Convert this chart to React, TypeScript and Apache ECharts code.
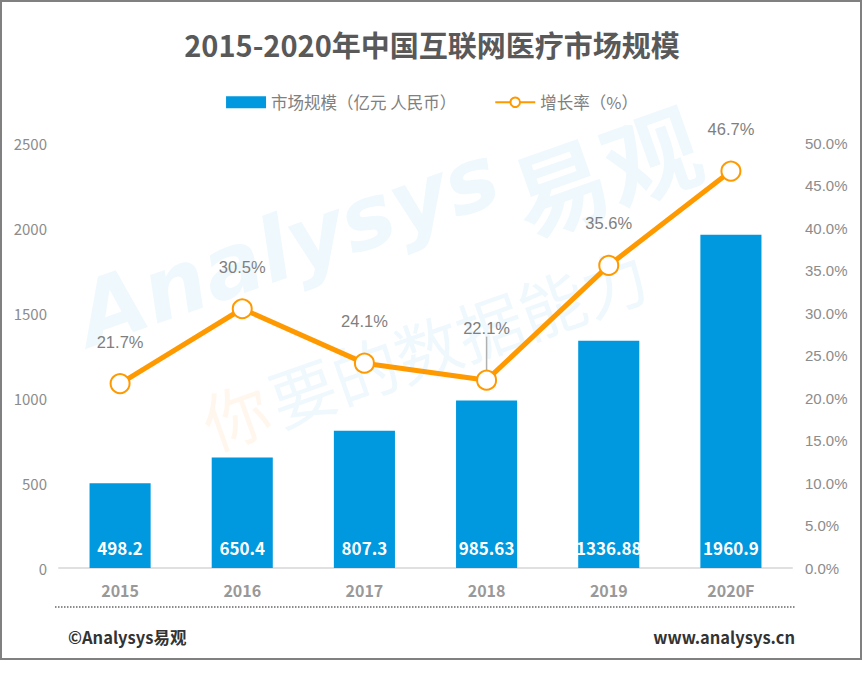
import React, { useEffect, useRef } from "react";
import * as echarts from "echarts";

const categories = ["2015", "2016", "2017", "2018", "2019", "2020F"];
const marketSize = [498.2, 650.4, 807.3, 985.63, 1336.88, 1960.9];
const growthRate = [21.7, 30.5, 24.1, 22.1, 35.6, 46.7];
const barName = "市场规模（亿元 人民币）";
const lineName = "增长率（%）";
const titleText = "2015-2020年中国互联网医疗市场规模";
const guidedLabelIndex = 3;

export default function App() {
  const ref = useRef<HTMLDivElement>(null);
  useEffect(() => {
    document.body.style.margin = "0";
    const chart = echarts.init(ref.current!, undefined, { renderer: "svg" });
    const font = "'Noto Sans CJK SC', 'Noto Sans', sans-serif";
    chart.setOption({
      animation: false,
      backgroundColor: "#ffffff",
      textStyle: { fontFamily: font },
      title: {
        text: titleText,
        left: "center",
        top: 24,
        textStyle: { fontSize: 29, fontWeight: "bold", color: "#595959", fontFamily: font },
      },
      legend: {
        top: 89,
        left: "center",
        itemGap: 38,
        itemWidth: 40,
        itemHeight: 12,
        textStyle: { fontSize: 16.5, color: "#808080", fontFamily: font },
        data: [
          { name: barName, icon: "rect" },
          { name: lineName },
        ],
      },
      grid: { left: 59, right: 72, top: 143, bottom: 106, containLabel: false },
      xAxis: {
        type: "category",
        data: categories,
        axisLine: { lineStyle: { color: "#e0e0e0", width: 2 } },
        axisTick: { show: false },
        axisLabel: { color: "#999999", fontSize: 16, fontWeight: "bold", margin: 14, fontFamily: font },
      },
      yAxis: [
        {
          type: "value",
          min: 0,
          max: 2500,
          interval: 500,
          splitLine: { show: false },
          axisLine: { show: false },
          axisTick: { show: false },
          axisLabel: {
            color: "#8c8c8c",
            fontSize: 15,
            margin: 12,
            fontFamily: font,
            formatter: (v: number) => String(v),
          },
        },
        {
          type: "value",
          min: 0,
          max: 50,
          interval: 5,
          splitLine: { show: false },
          axisLine: { show: false },
          axisTick: { show: false },
          axisLabel: {
            color: "#8c8c8c",
            fontSize: 15,
            margin: 13,
            fontFamily: "'Liberation Sans', Arial, sans-serif",
            formatter: (v: number) => v.toFixed(1) + "%",
          },
        },
      ],
      graphic: [
        {
          type: "text",
          x: 95,
          y: 360,
          rotation: 0.34,
          z: -10,
          silent: true,
          style: {
            text: "Analysys",
            fontSize: 88,
            fontStyle: "italic",
            fontWeight: "bold",
            fontFamily: "'DejaVu Sans', sans-serif",
            fill: "rgba(0,150,220,0.065)",
            textVerticalAlign: "bottom",
          },
        },
        {
          type: "text",
          x: 530,
          y: 245,
          rotation: 0.34,
          z: -10,
          silent: true,
          style: {
            text: "易观",
            fontSize: 96,
            fontWeight: "bold",
            fontFamily: font,
            fill: "rgba(0,150,220,0.065)",
            textVerticalAlign: "bottom",
          },
        },
        {
          type: "text",
          x: 215,
          y: 455,
          rotation: 0.34,
          z: -10,
          silent: true,
          style: {
            text: "你",
            fontSize: 66,
            fontFamily: font,
            fill: "rgba(255,150,40,0.08)",
            textVerticalAlign: "bottom",
          },
        },
        {
          type: "text",
          x: 282,
          y: 432,
          rotation: 0.34,
          z: -10,
          silent: true,
          style: {
            text: "要的数据能力",
            fontSize: 66,
            fontFamily: font,
            fill: "rgba(0,150,220,0.065)",
            textVerticalAlign: "bottom",
          },
        },
        {
          type: "rect",
          shape: { x: 1, y: 1, width: 860, height: 658 },
          style: { fill: "none", stroke: "#808080", lineWidth: 2 },
          silent: true,
        },
        {
          type: "line",
          shape: { x1: 55, y1: 607, x2: 795, y2: 607 },
          style: { stroke: "#8c8c8c", lineWidth: 2, lineDash: [1.5, 1.5] },
          silent: true,
        },
        {
          type: "text",
          x: 68,
          y: 637,
          style: {
            text: "©Analysys易观",
            fontSize: 16.5,
            fontWeight: "bold",
            fill: "#333333",
            fontFamily: font,
            textVerticalAlign: "middle",
          },
        },
        {
          type: "text",
          x: 795,
          y: 637,
          style: {
            text: "www.analysys.cn",
            fontSize: 16.5,
            fontWeight: "bold",
            fill: "#333333",
            fontFamily: font,
            textAlign: "right",
            textVerticalAlign: "middle",
          },
        },
      ],
      series: [
        {
          name: barName,
          type: "bar",
          data: marketSize,
          barWidth: "50%",
          itemStyle: { color: "#0098DE" },
          label: {
            show: true,
            position: "insideBottom",
            distance: 12,
            color: "#ffffff",
            fontSize: 17,
            fontWeight: "bold",
            fontFamily: font,
          },
        },
        {
          name: lineName,
          type: "line",
          yAxisIndex: 1,
          data: growthRate.map((v, i) => ({
            value: v,
            labelLine: { show: i === guidedLabelIndex },
          })),
          symbol: "emptyCircle",
          symbolSize: 19,
          lineStyle: { color: "#FF9900", width: 5 },
          itemStyle: { color: "#FF9900", borderColor: "#FF9900", borderWidth: 4 },
          label: {
            show: true,
            position: "top",
            distance: 23,
            color: "#7f7f7f",
            fontSize: 16.5,
            fontFamily: "'Liberation Sans', Arial, sans-serif",
            formatter: (p: any) => p.value.toFixed(1) + "%",
          },
          labelLine: { show: false, lineStyle: { color: "#b0b0b0", width: 1.5 } },
          labelLayout: (params: any) =>
            params.dataIndex === guidedLabelIndex ? { dy: -10 } : {},
          z: 5,
        },
      ],
    });
    return () => chart.dispose();
  }, []);
  return <div ref={ref} style={{ width: 864, height: 674 }} />;
}
